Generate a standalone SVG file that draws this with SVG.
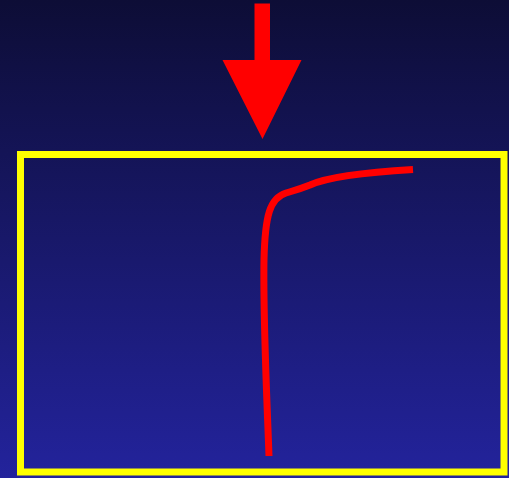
<svg xmlns="http://www.w3.org/2000/svg" width="509" height="478" viewBox="0 0 509 478">
<defs>
<linearGradient id="bg" x1="0" y1="0" x2="0" y2="1">
<stop offset="0" stop-color="#0d0d36"/>
<stop offset="1" stop-color="#23239c"/>
</linearGradient>
<style>
.box{fill:none;stroke:#ffff00;stroke-width:7}
.curve{fill:none;stroke:#ff0000;stroke-width:7;stroke-linecap:butt;stroke-linejoin:round}
.arrow{fill:#ff0000}
</style>
</defs>
<rect width="509" height="478" fill="url(#bg)"/>
<g id="box"><rect class="box" x="20.5" y="154.5" width="483.5" height="317.5"/></g>
<g id="arrow"><polygon class="arrow" points="254.5,3.5 270,3.5 270,60 301.5,60 262.5,139 222.5,60 254.5,60"/></g>
<g id="connectors">
<path class="curve" d="M269,456 C267,400 263,320 264,260 C265,215 270,198 286,193 C296,190 300,189 310,185 C330,176 370,172 413,169.5"/>
</g>
</svg>
